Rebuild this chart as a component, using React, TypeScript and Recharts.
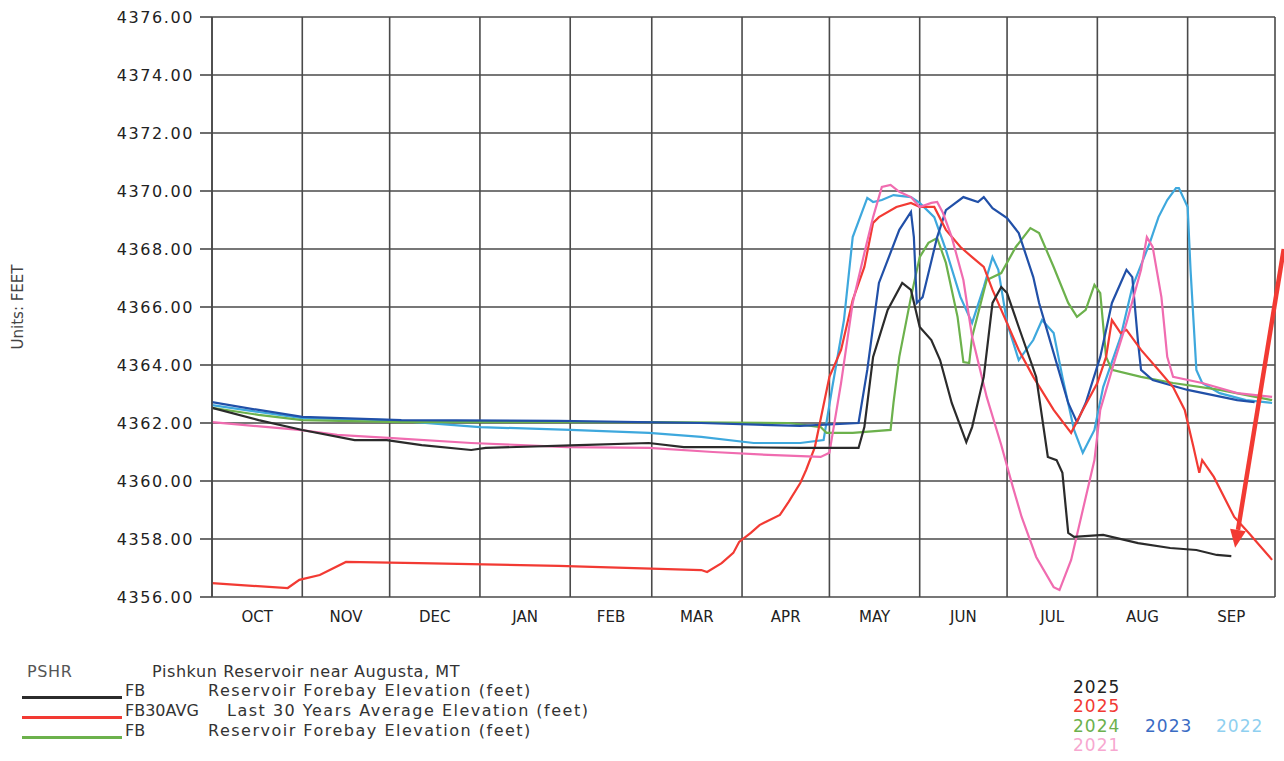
import React from 'react';
import { LineChart, Line, XAxis, YAxis, CartesianGrid, ReferenceLine } from 'recharts';

// x = day of the water year (0 = Oct 1), y = elevation in feet
const monthStarts = [0, 31, 61, 92, 123, 151, 182, 212, 243, 273, 304, 335, 365];
const monthNames = ['OCT', 'NOV', 'DEC', 'JAN', 'FEB', 'MAR', 'APR', 'MAY', 'JUN', 'JUL', 'AUG', 'SEP'];
const yTicks = [4356, 4358, 4360, 4362, 4364, 4366, 4368, 4370, 4372, 4374, 4376];

// 2025 FB (black)
const fb2025: [number, number][] = [
  [0, 4362.52], [16, 4362.1], [31, 4361.76], [49, 4361.41], [60, 4361.41], [72, 4361.24],
  [89, 4361.07], [94, 4361.14], [126, 4361.24], [150, 4361.31], [162, 4361.17], [177, 4361.17],
  [202, 4361.14], [222, 4361.14], [224, 4361.86], [227, 4364.28], [232, 4365.9], [237, 4366.83],
  [240, 4366.59], [243, 4365.31], [247, 4364.86], [250, 4364.17], [254, 4362.69], [259, 4361.34],
  [261, 4361.86], [265, 4363.59], [268, 4366.14], [271, 4366.69], [273, 4366.48], [277, 4365.31],
  [283, 4363.59], [287, 4360.83], [290, 4360.72], [292, 4360.28], [294, 4358.21], [296, 4358.07],
  [306, 4358.14], [318, 4357.86], [329, 4357.69], [338, 4357.62], [345, 4357.45], [350, 4357.41],
];

// FB30AVG, labelled 2025 (red)
const avg30: [number, number][] = [
  [0, 4356.48], [10, 4356.41], [26, 4356.31], [30, 4356.59], [37, 4356.76], [46, 4357.21],
  [71, 4357.17], [119, 4357.07], [168, 4356.93], [170, 4356.86], [175, 4357.17], [179, 4357.52],
  [181, 4357.9], [185, 4358.21], [188, 4358.48], [195, 4358.83], [198, 4359.28], [202, 4359.93],
  [204, 4360.38], [207, 4361.17], [212, 4363.59], [216, 4364.52], [220, 4366.24], [224, 4367.38],
  [227, 4368.9], [229, 4369.1], [235, 4369.45], [240, 4369.59], [243, 4369.45], [248, 4369.45],
  [252, 4368.66], [257, 4368.07], [261, 4367.72], [265, 4367.38], [268, 4366.59], [271, 4365.9],
  [277, 4364.52], [282, 4363.59], [289, 4362.45], [295, 4361.66], [299, 4362.45], [304, 4363.38],
  [307, 4364.28], [309, 4365.55], [312, 4365.1], [314, 4365.21], [319, 4364.52], [325, 4363.83],
  [330, 4363.24], [334, 4362.45], [337, 4361.17], [339, 4360.28], [340, 4360.72], [344, 4360.14],
  [351, 4358.76], [356, 4358.21], [364, 4357.28],
];

// 2024 FB (green)
const fb2024: [number, number][] = [
  [0, 4362.52], [16, 4362.28], [31, 4362.1], [65, 4362.03], [99, 4362.03], [150, 4362.03],
  [198, 4362.0], [209, 4361.86], [211, 4361.66], [220, 4361.66], [233, 4361.76], [234, 4362.69],
  [236, 4364.28], [240, 4366.34], [243, 4367.72], [246, 4368.21], [249, 4368.38], [252, 4367.52],
  [256, 4365.66], [258, 4364.1], [260, 4364.07], [261, 4364.97], [266, 4366.93], [271, 4367.17],
  [276, 4368.07], [281, 4368.72], [284, 4368.55], [289, 4367.38], [294, 4366.14], [297, 4365.66],
  [300, 4365.9], [303, 4366.76], [305, 4366.48], [307, 4364.28], [309, 4363.83], [319, 4363.59],
  [330, 4363.38], [346, 4363.14], [364, 4362.79],
];

// 2023 (dark blue)
const fb2023: [number, number][] = [
  [0, 4362.72], [16, 4362.45], [31, 4362.21], [65, 4362.1], [119, 4362.07], [168, 4362.0],
  [202, 4361.9], [222, 4362.0], [225, 4363.83], [229, 4366.83], [236, 4368.66], [240, 4369.28],
  [241, 4368.41], [242, 4366.14], [244, 4366.34], [249, 4368.41], [252, 4369.34], [258, 4369.79],
  [263, 4369.62], [265, 4369.79], [268, 4369.41], [273, 4369.07], [277, 4368.55], [282, 4367.03],
  [284, 4366.14], [289, 4364.41], [294, 4362.69], [297, 4362.03], [300, 4362.69], [305, 4364.28],
  [309, 4366.14], [314, 4367.28], [316, 4367.03], [318, 4364.76], [319, 4363.83], [323, 4363.48],
  [335, 4363.14], [352, 4362.79], [358, 4362.72],
];

// 2022 (light blue)
const fb2022: [number, number][] = [
  [0, 4362.62], [16, 4362.38], [31, 4362.17], [61, 4362.1], [92, 4361.86], [123, 4361.76],
  [150, 4361.66], [168, 4361.52], [186, 4361.31], [202, 4361.31], [210, 4361.41], [213, 4363.24],
  [217, 4365.55], [220, 4368.41], [225, 4369.76], [227, 4369.62], [230, 4369.69], [234, 4369.86],
  [240, 4369.79], [243, 4369.59], [248, 4369.1], [252, 4367.97], [257, 4366.34], [261, 4365.45],
  [265, 4366.69], [268, 4367.72], [270, 4367.28], [273, 4365.45], [277, 4364.17], [282, 4364.86],
  [285, 4365.55], [289, 4365.1], [292, 4363.59], [296, 4361.76], [299, 4360.97], [303, 4361.76],
  [306, 4363.24], [312, 4364.97], [316, 4366.69], [322, 4368.21], [325, 4369.1], [328, 4369.69],
  [331, 4370.1], [332, 4370.1], [335, 4369.45], [336, 4367.28], [338, 4363.83], [340, 4363.38],
  [346, 4363.03], [355, 4362.79], [364, 4362.69],
];

// 2021 (pink)
const fb2021: [number, number][] = [
  [0, 4362.03], [30, 4361.76], [43, 4361.59], [62, 4361.48], [89, 4361.31], [106, 4361.24],
  [122, 4361.17], [150, 4361.14], [172, 4361.0], [191, 4360.9], [209, 4360.83], [212, 4360.97],
  [216, 4363.38], [220, 4366.14], [224, 4367.86], [227, 4369.1], [230, 4370.14], [233, 4370.21],
  [236, 4369.97], [240, 4369.79], [243, 4369.45], [247, 4369.59], [249, 4369.62], [251, 4369.24],
  [254, 4368.41], [258, 4366.93], [261, 4364.97], [266, 4362.9], [271, 4361.24], [275, 4359.79],
  [278, 4358.76], [283, 4357.38], [289, 4356.34], [291, 4356.24], [295, 4357.28], [299, 4359.0],
  [303, 4360.72], [305, 4362.45], [310, 4364.17], [314, 4365.45], [319, 4367.28], [321, 4368.41],
  [323, 4368.07], [326, 4366.34], [328, 4364.28], [330, 4363.59], [340, 4363.38], [352, 4363.03],
  [364, 4362.9],
];

// hand-drawn arrow pointing at the end of the 2025 line
const arrowTail = { d: 368, v: 4368.0 };
const arrowTip = { d: 351.3, v: 4357.7 };

const toPts = (arr: [number, number][]) => arr.map(([d, v]) => ({ d, v }));

const monthMids = monthStarts.slice(0, -1).map((s, i) => s + (monthStarts[i + 1] - s) / 2);

const COLORS = {
  black: '#2b2b2b',
  red: '#f23a33',
  green: '#6cb14c',
  blue: '#2150a8',
  lightBlue: '#3ea8dd',
  pink: '#f06cb0',
};

const FONT = '"DejaVu Sans", Arial, sans-serif';

const ArrowShape = (p: any) => {
  const { x1, y1, x2, y2 } = p;
  const ang = Math.atan2(y2 - y1, x2 - x1);
  const len = 18;
  const half = 8;
  const bx = x2 - len * Math.cos(ang);
  const by = y2 - len * Math.sin(ang);
  const px = -Math.sin(ang) * half;
  const py = Math.cos(ang) * half;
  return (
    <g>
      <line x1={x1} y1={y1} x2={bx} y2={by} stroke={COLORS.red} strokeWidth={4.5} />
      <polygon points={`${x2},${y2} ${bx + px},${by + py} ${bx - px},${by - py}`} fill={COLORS.red} />
    </g>
  );
};

const series = [
  { key: 'fb2022', data: fb2022, color: COLORS.lightBlue },
  { key: 'fb2024', data: fb2024, color: COLORS.green },
  { key: 'fb2023', data: fb2023, color: COLORS.blue },
  { key: 'avg30', data: avg30, color: COLORS.red },
  { key: 'fb2021', data: fb2021, color: COLORS.pink },
  { key: 'fb2025', data: fb2025, color: COLORS.black },
];

const txt: React.CSSProperties = {
  position: 'absolute',
  fontFamily: FONT,
  fontSize: 15,
  lineHeight: '18px',
  color: '#333',
  whiteSpace: 'nowrap',
};

const desc: React.CSSProperties = { ...txt, fontSize: 16, letterSpacing: 1.5 };
const year: React.CSSProperties = { ...txt, fontSize: 17, letterSpacing: 1 };

const App = () => {
  return (
    <div style={{ position: 'absolute', left: 0, top: 0, width: 1284, height: 761, background: '#fff' }}>
      <LineChart width={1284} height={640} margin={{ top: 17, right: 9, left: 0, bottom: 13 }}>
        <CartesianGrid xAxisId="b" stroke="#4a4a4a" strokeWidth={1.6} />
        <XAxis
          xAxisId="b"
          dataKey="d"
          type="number"
          domain={[0, 365]}
          allowDataOverflow
          ticks={monthStarts}
          tickFormatter={() => ''}
          tickSize={8}
          height={0}
          stroke="#4a4a4a"
          strokeWidth={1.6}
        />
        <XAxis
          xAxisId="m"
          dataKey="d"
          type="number"
          domain={[0, 365]}
          allowDataOverflow
          ticks={monthMids}
          tickFormatter={(v: number) => monthNames[monthMids.indexOf(v)]}
          tickLine={false}
          axisLine={false}
          tickSize={8}
          tickMargin={6}
          height={30}
          tick={{ fill: '#222', fontSize: 15, fontFamily: FONT }}
        />
        <YAxis
          dataKey="v"
          type="number"
          domain={[4356, 4376]}
          allowDataOverflow
          ticks={yTicks}
          tickFormatter={(v: number) => v.toFixed(2)}
          width={212}
          tickSize={12}
          tickMargin={6}
          stroke="#4a4a4a"
          strokeWidth={1.6}
          tick={{ fill: '#222', fontSize: 16, fontFamily: FONT, letterSpacing: 1.6 }}
          label={{
            value: 'Units: FEET',
            angle: -90,
            position: 'insideLeft',
            offset: 18,
            style: { textAnchor: 'middle', fill: '#444', fontSize: 15, fontFamily: FONT },
          }}
        />
        {series.map((s) => (
          <Line
            key={s.key}
            xAxisId="b"
            data={toPts(s.data)}
            dataKey="v"
            type="linear"
            stroke={s.color}
            strokeWidth={2.2}
            dot={false}
            activeDot={false}
            isAnimationActive={false}
          />
        ))}
        <ReferenceLine
          xAxisId="b"
          segment={[arrowTail, arrowTip].map((p) => ({ x: p.d, y: p.v }))}
          ifOverflow="visible"
          shape={ArrowShape}
        />
      </LineChart>

      {/* legend block */}
      <div style={{ ...txt, fontSize: 16, letterSpacing: 0.6, left: 27, top: 663, color: '#555' }}>PSHR</div>
      <div style={{ ...txt, fontSize: 16, letterSpacing: 0.6, left: 152, top: 663 }}>
        Pishkun Reservoir near Augusta, MT
      </div>

      <div style={{ position: 'absolute', left: 22, top: 696, width: 100, height: 3, background: COLORS.black }} />
      <div style={{ ...txt, fontSize: 16, left: 125, top: 682 }}>FB</div>
      <div style={{ ...desc, left: 208, top: 682 }}>Reservoir Forebay Elevation (feet)</div>

      <div style={{ position: 'absolute', left: 22, top: 716, width: 100, height: 3, background: COLORS.red }} />
      <div style={{ ...txt, fontSize: 16, left: 125, top: 702 }}>FB30AVG</div>
      <div style={{ ...desc, left: 227, top: 702 }}>Last 30 Years Average Elevation (feet)</div>

      <div style={{ position: 'absolute', left: 22, top: 736, width: 100, height: 3, background: COLORS.green }} />
      <div style={{ ...txt, fontSize: 16, left: 125, top: 722 }}>FB</div>
      <div style={{ ...desc, left: 208, top: 722 }}>Reservoir Forebay Elevation (feet)</div>

      {/* year key */}
      <div style={{ ...year, left: 1073, top: 678, color: '#222' }}>2025</div>
      <div style={{ ...year, left: 1073, top: 697, color: COLORS.red }}>2025</div>
      <div style={{ ...year, left: 1073, top: 717, color: COLORS.green }}>2024</div>
      <div style={{ ...year, left: 1145, top: 717, color: '#3a6cc4' }}>2023</div>
      <div style={{ ...year, left: 1216, top: 717, color: '#8fd0f0' }}>2022</div>
      <div style={{ ...year, left: 1073, top: 736, color: '#f7a8d0' }}>2021</div>
    </div>
  );
};

export default App;
